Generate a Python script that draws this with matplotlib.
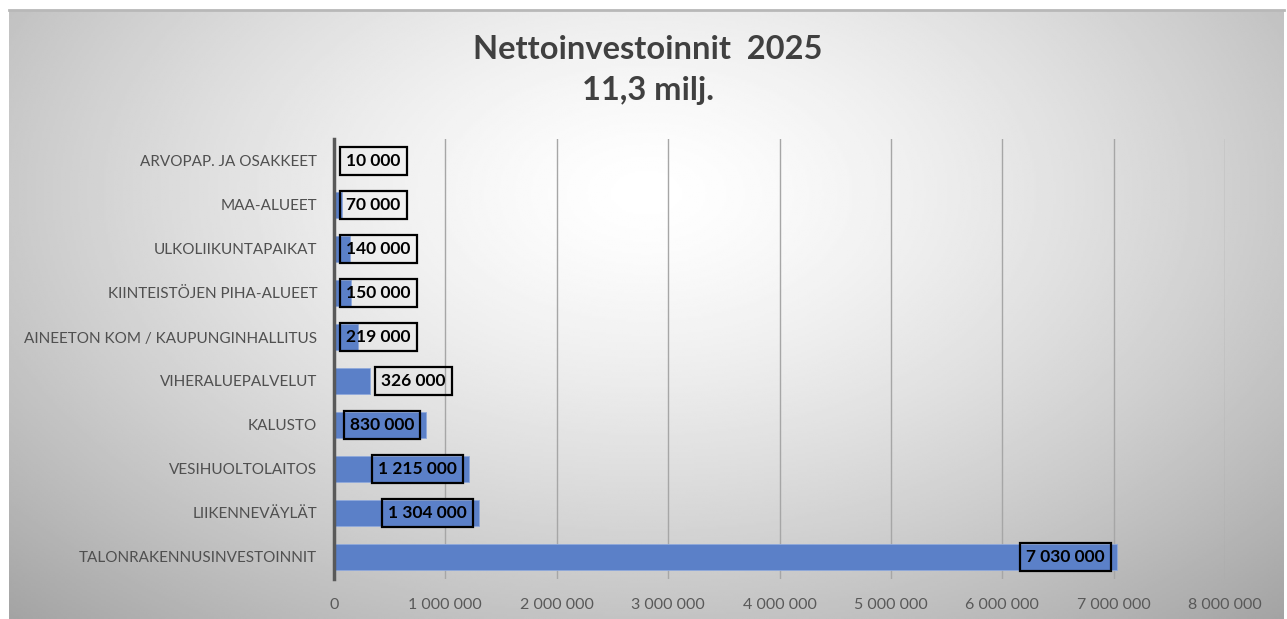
import numpy as np
import matplotlib.pyplot as plt

# data (bottom -> top)
categories = ['TALONRAKENNUSINVESTOINNIT', 'LIIKENNEVÄYLÄT', 'VESIHUOLTOLAITOS',
              'KALUSTO', 'VIHERALUEPALVELUT', 'AINEETON KOM / KAUPUNGINHALLITUS',
              'KIINTEISTÖJEN PIHA-ALUEET', 'ULKOLIIKUNTAPAIKAT', 'MAA-ALUEET',
              'ARVOPAP. JA OSAKKEET']
values = [7030000, 1304000, 1215000, 830000, 326000, 219000, 150000, 140000, 70000, 10000]
x_ticks = [0, 1000000, 2000000, 3000000, 4000000, 5000000, 6000000, 7000000, 8000000]
title = 'Nettoinvestoinnit  2025\n11,3 milj.'


def fmt(v):
    return f'{v:,}'.replace(',', ' ')


plt.rcParams['font.family'] = ['Lato', 'DejaVu Sans']

W, H = 1287, 619
fig = plt.figure(figsize=(W / 100, H / 100), dpi=100)

# background panel with radial gradient
bg = fig.add_axes([9 / W, 0, (1284 - 9) / W, (619 - 10) / H])
yy, xx = np.mgrid[-1:1:300j, -1:1:600j]
r = np.sqrt(xx ** 2 + ((yy + 0.4) / 1.3) ** 2)
img = 1.0 - 0.21 * np.clip(r, 0, 1.6) ** 1.4
bg.imshow(img, cmap='gray', vmin=0, vmax=1, aspect='auto', extent=[0, 1, 0, 1])
bg.set_axis_off()
fig.add_artist(plt.Line2D([9 / W, 1284 / W], [1 - 9.5 / H, 1 - 9.5 / H],
                          color='#b8b8b8', lw=2))

ax = fig.add_axes([334 / W, 1 - 579 / H, (1225 - 334) / W, 440 / H])
ax.patch.set_alpha(0)
y = np.arange(len(categories))
ax.barh(y, values, height=0.6, color='#5b80c8', edgecolor='#8fa9dc', linewidth=0.6, zorder=3)
ax.set_ylim(-0.5, len(categories) - 0.5)
ax.set_xlim(0, 8000000)
ax.set_yticks(y)
ax.set_yticklabels(categories, fontsize=11, color='#505050')
ax.set_xticks(x_ticks)
ax.set_xticklabels([fmt(v) for v in x_ticks], fontsize=11.5, color='#595959')
ax.tick_params(length=0, pad=12)
ax.tick_params(axis='x', pad=14)
ax.grid(axis='x', color='#a6a6a6', lw=1, zorder=0)
for s in ['top', 'right', 'bottom']:
    ax.spines[s].set_visible(False)
ax.spines['left'].set_color('#595959')
ax.spines['left'].set_linewidth(2.5)
ax.spines['left'].set_zorder(4)

# data labels, boxed
box = dict(boxstyle='square,pad=0.35', fc='none', ec='black', lw=1.6)
for yi, v in zip(y, values):
    if v < 300000:
        ax.text(110000, yi, fmt(v), ha='left', va='center', fontsize=12.5,
                fontweight='bold', color='black', bbox=box, zorder=5)
    elif v < 500000:
        ax.text(v + 100000, yi, fmt(v), ha='left', va='center', fontsize=12.5,
                fontweight='bold', color='black', bbox=box, zorder=5)
    else:
        ax.text(v - 110000, yi, fmt(v), ha='right', va='center', fontsize=12.5,
                fontweight='bold', color='black', bbox=box, zorder=5)

fig.text(648 / W, 1 - 70 / H, title, ha='center', va='center', fontsize=23.5,
         fontweight='bold', color='#404040', linespacing=1.5)

fig.savefig('out.png', dpi=100)
